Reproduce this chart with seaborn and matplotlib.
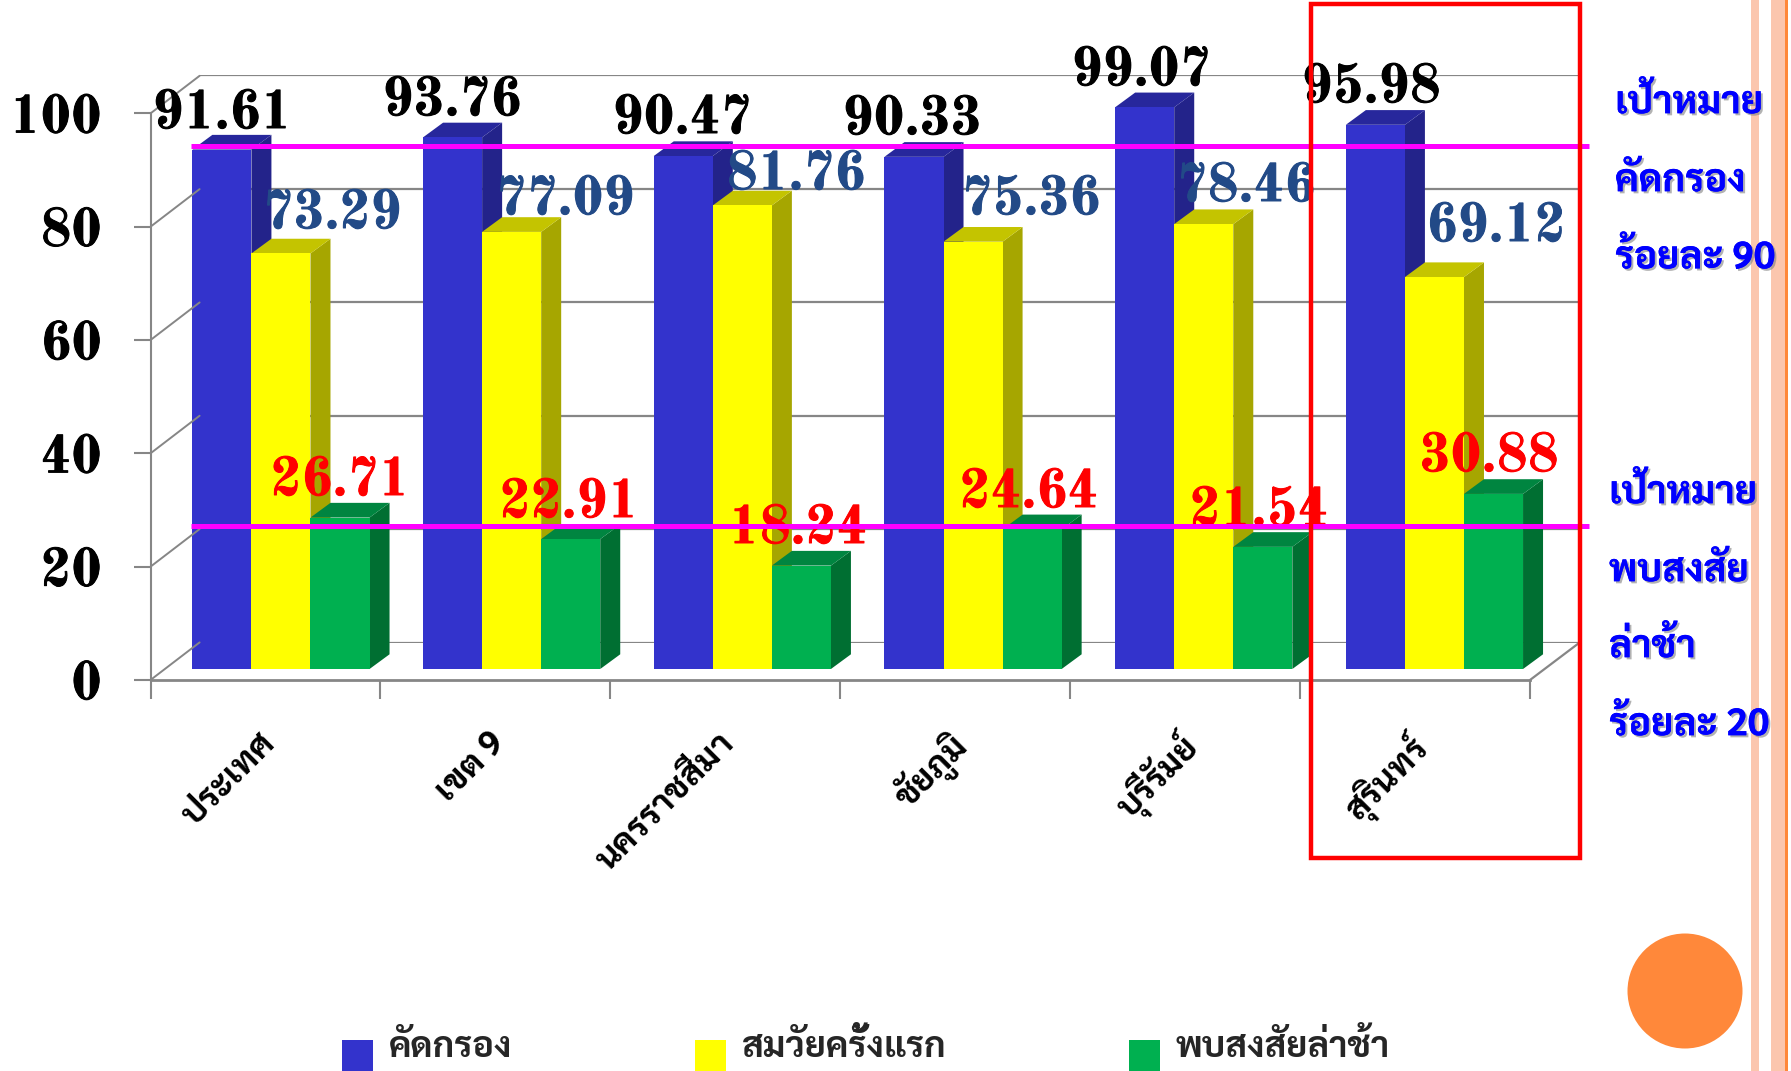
import matplotlib
matplotlib.use('Agg')
import matplotlib.patheffects as pe
import matplotlib.pyplot as plt
import pandas as pd
import seaborn as sns
from matplotlib.legend_handler import HandlerPatch
from matplotlib.patches import Ellipse, Polygon, Rectangle

# values
provinces = ['ประเทศ', 'เขต 9', 'นครราชสีมา', 'ชัยภูมิ', 'บุรีรัมย์', 'สุรินทร์']
series_names = ['คัดกรอง', 'สมวัยครั้งแรก', 'พบสงสัยล่าช้า']
screened = [91.61, 93.76, 90.47, 90.33, 99.07, 95.98]
on_time = [73.29, 77.09, 81.76, 75.36, 78.46, 69.12]
delayed = [26.71, 22.91, 18.24, 24.64, 21.54, 30.88]
y_ticks = [0, 20, 40, 60, 80, 100]

# hand placed label centres, in pixels of the 1791x1071 picture
screened_label_xy = [(222, 115), (452, 102), (682, 120), (912, 121), (1141, 72), (1371, 89)]
on_time_label_xy = [(332, 215), (565, 201), (796, 176), (1031, 201), (1246, 188), (1496, 228)]
delayed_label_xy = [(340, 482), (569, 504), (798, 530), (1029, 494), (1259, 512), (1489, 458)]

W, H = 1791, 1071
THAI = ['Sarabun', 'Noto Sans Thai', 'DejaVu Sans']
NUM_FONT = ['Old Standard TT', 'DejaVu Serif']
GRAY = '#868686'

sns.set_style('white')
plt.rcParams['font.family'] = THAI

df = pd.DataFrame({
    'province': provinces * 3,
    'series': [n for n in series_names for _ in provinces],
    'value': screened + on_time + delayed,
})

fig = plt.figure(figsize=(W / 100, H / 100), dpi=100)


def add_axes_px(left, top, right, bottom):
    return fig.add_axes([left / W, 1 - bottom / H, (right - left) / W, (bottom - top) / H])


# back wall of the 3d box, gridlines only
ax_back = add_axes_px(199.6, 75, 1579, 643)
ax_back.set_xlim(0, 6)
ax_back.set_ylim(0, 100)
ax_back.set_yticks(y_ticks)
ax_back.set_xticks([])
ax_back.set_yticklabels([])
ax_back.grid(axis='y', color=GRAY, lw=1.6)
sns.despine(ax=ax_back, left=True, bottom=True)

# front plane with the real axis ticks and labels
ax = add_axes_px(150.5, 113.4, 1530, 680)
ax.patch.set_alpha(0)
ax.set_xlim(0, 6)
ax.set_ylim(0, 100)
ax.set_yticks(y_ticks)
ax.set_xticks(range(7))
ax.set_xticklabels([])
ax.set_xticks([i + 0.465 for i in range(6)], minor=True)
ax.set_xticklabels(provinces, minor=True, rotation=45, ha='right', rotation_mode='anchor',
                   fontsize=25, fontweight='bold', color='black')
ax.tick_params(axis='x', which='major', length=14, width=1.5, color=GRAY, bottom=True)
ax.tick_params(axis='x', which='minor', length=0, pad=33, bottom=False)
ax.tick_params(axis='y', length=12, width=1.5, color=GRAY, left=True, pad=23)
thick = [pe.withStroke(linewidth=0.7, foreground='black')]
for lab in ax.get_yticklabels():
    lab.set_family(NUM_FONT)
    lab.set_fontweight('bold')
    lab.set_fontsize(38)
    lab.set_color('black')
    lab.set_verticalalignment('center_baseline')
    lab.set_path_effects(thick)
sns.despine(ax=ax, top=True, right=True)
ax.spines['left'].set_color(GRAY)
ax.spines['left'].set_linewidth(1.5)
ax.spines['bottom'].set_color(GRAY)
ax.spines['bottom'].set_linewidth(2)

# bars sit halfway into the depth of the box
ax_bars = add_axes_px(165.6, 102, 1549.8, 669)
ax_bars.patch.set_alpha(0)
front_colors = ['#3333CC', '#FFFF00', '#00B050']
side_colors = ['#23238A', '#A6A600', '#006F32']
top_colors = ['#27279C', '#C4C400', '#008540']
sns.barplot(data=df, x='province', y='value', hue='series', hue_order=series_names, order=provinces,
            palette=front_colors, width=0.768, gap=0, saturation=1, ax=ax_bars, linewidth=0)
ax_bars.set_ylim(0, 100)
ax_bars.set_xlim(-0.5, 5.5)
ax_bars.axis('off')

# extrude the seaborn bars to fake the 3d look
dx = 20 / (1384.2 / 6)
dy = 14.7 / 5.67
for s, container in enumerate(ax_bars.containers):
    for bar in container:
        x0 = bar.get_x()
        x1 = x0 + bar.get_width()
        h = bar.get_height()
        bar.set_zorder(3)
        ax_bars.add_patch(Polygon([(x1, 0), (x1 + dx, dy), (x1 + dx, h + dy), (x1, h)],
                                  fc=side_colors[s], ec='none', zorder=1 + s / 10, clip_on=False))
        ax_bars.add_patch(Polygon([(x0, h), (x0 + dx, h + dy), (x1 + dx, h + dy), (x1, h)],
                                  fc=top_colors[s], ec='none', zorder=1 + s / 10, clip_on=False))


def square_handle(legend, orig_handle, xdescent, ydescent, width, height, fontsize):
    return Rectangle((-xdescent, -ydescent - 9), width, width)


old_legend = ax_bars.get_legend()
handles = old_legend.legend_handles
labels = [t.get_text() for t in old_legend.get_texts()]
old_legend.remove()
ax_bars.legend(handles, labels, ncol=3, loc='lower left', bbox_to_anchor=(342 / W, 5 / H),
               bbox_transform=fig.transFigure, frameon=False, borderpad=0, borderaxespad=0,
               handlelength=0.87, handleheight=0.87, handletextpad=0.43, columnspacing=5.05,
               prop={'weight': 'bold', 'size': 26, 'family': THAI},
               handler_map={Rectangle: HandlerPatch(patch_func=square_handle)})

# slide decorations on top, coordinates are pixels
ov = fig.add_axes([0, 0, 1, 1])
ov.set_xlim(0, W)
ov.set_ylim(H, 0)
ov.axis('off')

# side walls and floor edges of the box
for t in y_ticks:
    y = 680 - t * 5.666
    ov.plot([150.5, 199.6], [y, y - 37.6], color=GRAY, lw=1.4, zorder=0.5)
ov.plot([1530, 1579], [680, 643], color=GRAY, lw=1.6, zorder=0.5)

for vals, spots, col in [(screened, screened_label_xy, 'black'),
                         (on_time, on_time_label_xy, '#224A87'),
                         (delayed, delayed_label_xy, '#FF0000')]:
    for v, (x, y) in zip(vals, spots):
        ov.text(x, y, f'{v:.2f}', ha='center', va='center', fontsize=38.5, fontweight='bold',
                family=NUM_FONT, color=col, zorder=3,
                path_effects=[pe.withStroke(linewidth=0.7, foreground=col)])

ov.plot([190.6, 1589], [146, 146], color='#FF00FF', lw=3.6, zorder=4, solid_capstyle='butt')
ov.plot([190.6, 1589], [526, 526], color='#FF00FF', lw=3.6, zorder=4, solid_capstyle='butt')
ov.add_patch(Rectangle((1310.5, 4), 269, 854, fill=False, ec='#FF0000', lw=3.2, zorder=5))

shadow = [pe.withSimplePatchShadow(offset=(1.5, -1.5), shadow_rgbFace='#808080', alpha=0.6), pe.Normal()]
notes = [(1615, 103, 'เป้าหมาย'), (1615, 181, 'คัดกรอง'), (1615, 258, 'ร้อยละ 90'),
         (1609, 493, 'เป้าหมาย'), (1609, 571, 'พบสงสัย'), (1609, 647, 'ล่าช้า'), (1609, 725, 'ร้อยละ 20')]
for x, y, s in notes:
    ov.text(x, y, s, ha='left', va='center', fontsize=27.5, fontweight='bold', color='#0000FF',
            family=THAI, zorder=6, path_effects=shadow)

# template stripes and circle
ov.add_patch(Rectangle((1751, 0), 8, H, fc='#FBC6AE', ec='none', zorder=2))
ov.add_patch(Rectangle((1771, 0), 14, H, fc='#FBC6AE', ec='none', zorder=2))
ov.add_patch(Rectangle((1785, 0), 3, H, fc='#FF883A', ec='none', zorder=2))
ov.add_patch(Ellipse((1685, 991), 115, 115, fc='#FF883A', ec='none', zorder=2))

fig.savefig('out.png', dpi=100)
